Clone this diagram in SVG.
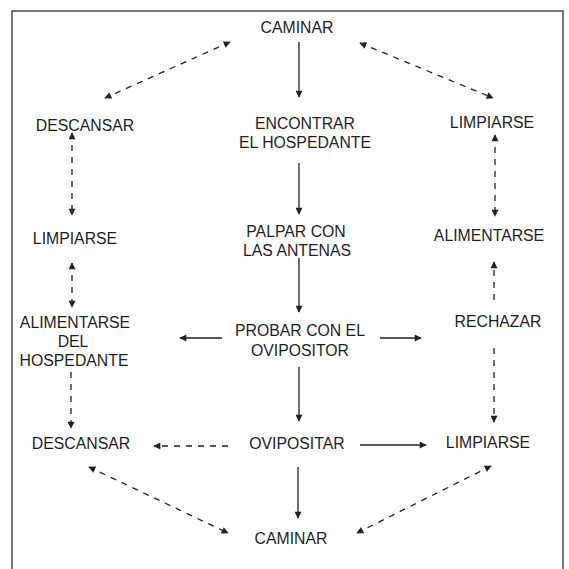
<svg xmlns="http://www.w3.org/2000/svg" width="569" height="569" viewBox="0 0 569 569">
<style>
text{font-family:"Liberation Sans",Arial,sans-serif;font-size:15.8px;fill:#1e1e1e;text-anchor:middle}
.s{stroke:#222;stroke-width:1.3;fill:none}
.d{stroke:#222;stroke-width:1.3;fill:none;stroke-dasharray:6 6}
</style>
<defs>
<marker id="ah" viewBox="0 0 10 10" refX="9" refY="5" markerWidth="8" markerHeight="7" markerUnits="userSpaceOnUse" orient="auto-start-reverse">
<path d="M0,0 L10,5 L0,10 z" fill="#222"/>
</marker>
</defs>
<rect x="12" y="11" width="551" height="580" fill="none" stroke="#333" stroke-width="1.3"/>
<g id="caminar-top"><text x="297" y="33">CAMINAR</text></g>
<g id="encontrar"><text x="305" y="129">ENCONTRAR</text><text x="305" y="148">EL HOSPEDANTE</text></g>
<g id="palpar"><text x="296" y="237">PALPAR CON</text><text x="297" y="256">LAS ANTENAS</text></g>
<g id="probar"><text x="300" y="336">PROBAR CON EL</text><text x="300" y="356">OVIPOSITOR</text></g>
<g id="ovipositar"><text x="297" y="449">OVIPOSITAR</text></g>
<g id="caminar-bottom"><text x="291" y="544">CAMINAR</text></g>
<g id="descansar-top"><text x="85" y="131">DESCANSAR</text></g>
<g id="limpiarse-left"><text x="75" y="244">LIMPIARSE</text></g>
<g id="alimentarse-hospedante"><text x="75" y="328">ALIMENTARSE</text><text x="73" y="347">DEL</text><text x="74" y="366">HOSPEDANTE</text></g>
<g id="descansar-bottom"><text x="81" y="449">DESCANSAR</text></g>
<g id="limpiarse-right-top"><text x="492" y="128">LIMPIARSE</text></g>
<g id="alimentarse-right"><text x="489" y="241">ALIMENTARSE</text></g>
<g id="rechazar"><text x="498" y="327">RECHAZAR</text></g>
<g id="limpiarse-right-bottom"><text x="488" y="448">LIMPIARSE</text></g>
<g id="connectors">
<line class="s" x1="299" y1="42" x2="299" y2="97" marker-end="url(#ah)"/>
<line class="s" x1="299" y1="163" x2="299" y2="214" marker-end="url(#ah)"/>
<line class="s" x1="299" y1="258" x2="299" y2="312" marker-end="url(#ah)"/>
<line class="s" x1="299" y1="367" x2="299" y2="421" marker-end="url(#ah)"/>
<line class="s" x1="298" y1="467" x2="298" y2="518" marker-end="url(#ah)"/>
<line class="s" x1="222" y1="338" x2="180" y2="338" marker-end="url(#ah)"/>
<line class="s" x1="380" y1="338" x2="421" y2="338" marker-end="url(#ah)"/>
<line class="s" x1="360" y1="445" x2="426" y2="445" marker-end="url(#ah)"/>
<line class="d" x1="228" y1="446" x2="154" y2="446" marker-end="url(#ah)"/>
<line class="d" x1="230" y1="42" x2="105" y2="98" marker-start="url(#ah)" marker-end="url(#ah)"/>
<line class="d" x1="360" y1="43" x2="493" y2="98" marker-start="url(#ah)" marker-end="url(#ah)"/>
<line class="d" x1="89" y1="467" x2="228" y2="533" marker-start="url(#ah)" marker-end="url(#ah)"/>
<line class="d" x1="491" y1="466" x2="357" y2="533" marker-start="url(#ah)" marker-end="url(#ah)"/>
<line class="d" x1="72" y1="133" x2="72" y2="215" marker-start="url(#ah)" marker-end="url(#ah)"/>
<line class="d" x1="72" y1="263" x2="72" y2="307" marker-start="url(#ah)" marker-end="url(#ah)"/>
<line class="d" x1="71" y1="372" x2="71" y2="428" marker-end="url(#ah)"/>
<line class="d" x1="495" y1="135" x2="495" y2="216" marker-start="url(#ah)" marker-end="url(#ah)"/>
<line class="d" x1="494" y1="300" x2="494" y2="262" marker-end="url(#ah)"/>
<line class="d" x1="494" y1="348" x2="494" y2="422" marker-end="url(#ah)"/>
</g>
</svg>
